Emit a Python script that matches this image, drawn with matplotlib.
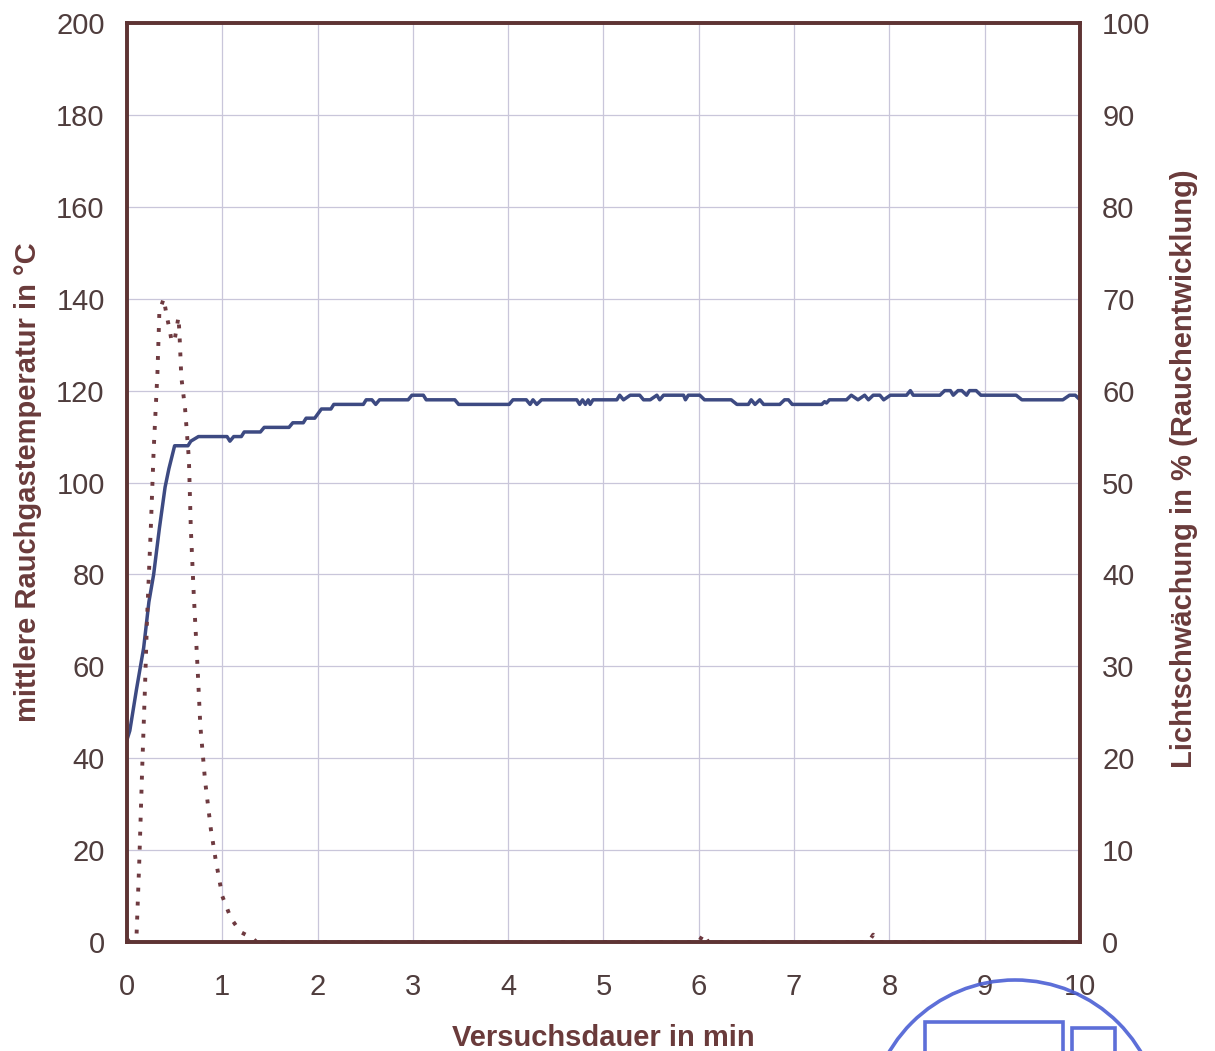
import matplotlib
matplotlib.use("Agg")
import matplotlib.pyplot as plt
from matplotlib.patches import Circle, Rectangle

# mean flue gas temperature (left axis, degC)
temp_t = [0.00, 0.03, 0.10, 0.175, 0.23, 0.28, 0.34, 0.40, 0.44, 0.50, 0.64, 0.67, 0.75,
          1.05, 1.08, 1.12, 1.20, 1.23, 1.40, 1.44, 1.70, 1.74, 1.85, 1.88, 1.97, 2.04,
          2.14, 2.17, 2.48, 2.51, 2.57, 2.61, 2.65, 2.95, 2.99, 3.11, 3.14, 3.44, 3.48,
          4.01, 4.05, 4.19, 4.23, 4.26, 4.30, 4.35, 4.72, 4.75, 4.78, 4.81, 4.84, 4.86,
          4.89, 5.14, 5.17, 5.21, 5.28, 5.38, 5.42, 5.49, 5.56, 5.59, 5.63, 5.84, 5.86,
          5.89, 6.01, 6.06, 6.34, 6.40, 6.52, 6.55, 6.59, 6.64, 6.68, 6.85, 6.90, 6.94,
          6.98, 7.29, 7.32, 7.34, 7.37, 7.55, 7.60, 7.67, 7.74, 7.78, 7.83, 7.90, 7.94,
          8.01, 8.18, 8.22, 8.25, 8.53, 8.58, 8.64, 8.67, 8.72, 8.76, 8.81, 8.84, 8.91,
          8.96, 9.33, 9.39, 9.82, 9.89, 9.95, 10.0]
temp_v = [44, 46, 55, 64, 74, 80, 90, 99, 103, 108, 108, 109, 110,
          110, 109, 110, 110, 111, 111, 112, 112, 113, 113, 114, 114, 116,
          116, 117, 117, 118, 118, 117, 118, 118, 119, 119, 118, 118, 117,
          117, 118, 118, 117, 118, 117, 118, 118, 117, 118, 117, 118, 117,
          118, 118, 119, 118, 119, 119, 118, 118, 119, 118, 119, 119, 118,
          119, 119, 118, 118, 117, 117, 118, 117, 118, 117, 117, 118, 118,
          117, 117, 117.6, 117.3, 118, 118, 119, 118, 119, 118, 119, 119, 118,
          119, 119, 120, 119, 119, 120, 120, 119, 120, 120, 119, 120, 120,
          119, 119, 118, 118, 119, 119, 118]

# light attenuation / smoke development (right axis, %)
smoke_t = [0.00, 0.10, 0.13, 0.16, 0.19, 0.21, 0.25, 0.28, 0.32, 0.34, 0.385, 0.42, 0.45,
           0.47, 0.50, 0.54, 0.55, 0.56, 0.57, 0.61, 0.65, 0.67, 0.70, 0.74, 0.77, 0.82,
           0.88, 0.93, 1.00, 1.09, 1.19, 1.32, 1.36, 6.00, 6.05, 6.10, 7.78, 7.83, 7.88, 10.0]
smoke_v = [0, 0.6, 9, 19, 28, 35, 45, 53.5, 62, 68.6, 70, 68, 66.5,
           65.3, 65.5, 68, 66.4, 64, 61.5, 58, 52.5, 45, 38, 30, 23.5, 17.5,
           12.3, 9, 5, 2.6, 1.1, 0.4, 0, 0, 0.9, 0, 0, 0.8, 0, 0]

x_ticks = list(range(0, 11))
left_ticks = list(range(0, 201, 20))
right_ticks = list(range(0, 101, 10))

label_color = "#6a3b3b"
tick_color = "#4f3d3d"
spine_color = "#5e3434"
grid_color = "#c9c6da"

plt.rcParams["font.family"] = ["Liberation Sans", "DejaVu Sans"]

fig = plt.figure(figsize=(12.15, 10.51), dpi=100)
ax = fig.add_axes([0.1045, 0.1037, 0.7844, 0.8744])
ax2 = ax.twinx()

ax.plot(temp_t, temp_v, color="#3d4a82", lw=2.5, solid_joinstyle="round", zorder=2)
ax2.plot(smoke_t, smoke_v, color="#6e3a40", lw=2.8, linestyle=(0, (1, 2.6)), zorder=2)

ax.set_xlim(0, 10)
ax.set_ylim(0, 200)
ax2.set_ylim(0, 100)
ax.set_xticks(x_ticks)
ax.set_yticks(left_ticks)
ax2.set_yticks(right_ticks)

ax.grid(True, color=grid_color, lw=0.9)
ax.set_axisbelow(True)

for a in (ax, ax2):
    for s in a.spines.values():
        s.set_color(spine_color)
        s.set_linewidth(2.6)
        s.set_zorder(5)
ax.tick_params(axis="both", length=0, labelsize=21, colors=tick_color)
ax.tick_params(axis="x", pad=22)
ax.tick_params(axis="y", pad=16)
ax2.tick_params(axis="y", length=0, labelsize=21, colors=tick_color, pad=16)

ax.set_xlabel("Versuchsdauer in min", fontsize=21, fontweight="bold",
              color=label_color)
ax.xaxis.set_label_coords(0.5, -0.089)
ax.set_ylabel("mittlere Rauchgastemperatur in °C", fontsize=21, fontweight="bold",
              color=label_color, labelpad=10)
ax2.set_ylabel("Lichtschwächung in % (Rauchentwicklung)", fontsize=21,
               fontweight="bold", color=label_color)
ax2.yaxis.set_label_coords(1.094, 0.515)

# stamp partly visible at the bottom right of the scan
stamp = "#4b5fd4"
fig.add_artist(Circle((10.15, -0.75), 1.46, transform=fig.dpi_scale_trans,
                      fill=False, ec=stamp, lw=2.6, alpha=0.9))
fig.add_artist(Rectangle((9.25, -0.5), 1.38, 0.79, transform=fig.dpi_scale_trans,
                         fill=False, ec=stamp, lw=2.6, alpha=0.9))
fig.add_artist(Rectangle((10.72, -0.5), 0.43, 0.73, transform=fig.dpi_scale_trans,
                         fill=False, ec=stamp, lw=2.6, alpha=0.9))

fig.savefig("out.png", dpi=100)
